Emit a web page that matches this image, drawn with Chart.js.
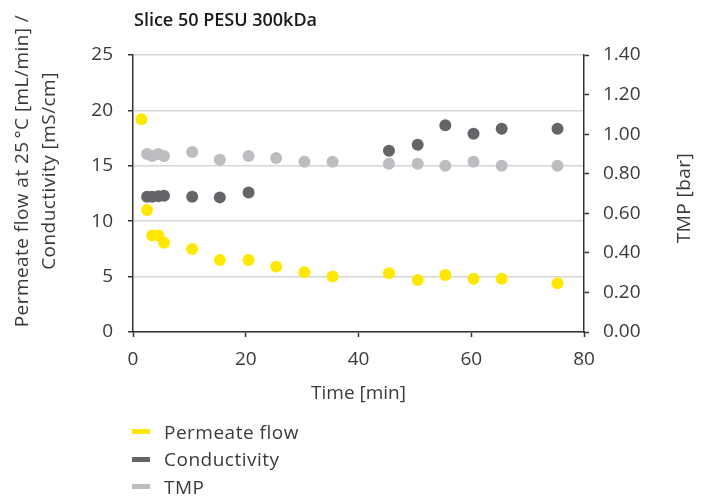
<!DOCTYPE html>
<html>
<head>
<meta charset="utf-8">
<script src="https://cdn.jsdelivr.net/npm/chart.js@4/dist/chart.umd.min.js"></script>
<style>
  html, body { margin: 0; padding: 0; background: #fff; }
  #wrap { position: relative; width: 711px; height: 499px; }
  canvas { position: absolute; left: 0; top: 0; }
  #legend { position: absolute; left: 132px; top: 418px; font-family: "Open Sans", sans-serif; font-size: 19px; letter-spacing: 0.5px; color: #3a3a3a; }
  .item { height: 27.5px; display: flex; align-items: center; }
  .sw { width: 18px; height: 5px; margin-right: 14px; }
</style>
</head>
<body>
<div id="wrap">
  <canvas id="c" width="711" height="499"></canvas>
  <div id="legend"></div>
</div>
<script>
const chartTitle = "Slice 50 PESU 300kDa";
const seriesNames = ["Permeate flow", "Conductivity", "TMP"];
const seriesColors = ["#FFE800", "#646569", "#BCBDC0"];
const timeMin = [1.5, 2.5, 3.4, 4.5, 5.5, 10.5, 15.4, 20.5, 25.4, 30.4, 35.4, 45.4, 50.5, 55.4, 60.4, 65.4, 75.3];
const permeateFlow = [19.2, 11.0, 8.7, 8.7, 8.05, 7.5, 6.5, 6.5, 5.9, 5.4, 5.0, 5.3, 4.7, 5.15, 4.8, 4.8, 4.4];
const conductivity = [null, 12.2, 12.2, 12.25, 12.3, 12.2, 12.15, 12.6, null, null, null, 16.35, 16.9, 18.65, 17.9, 18.35, 18.35];
const tmp = [null, 0.90, 0.89, 0.90, 0.89, 0.91, 0.87, 0.89, 0.88, 0.86, 0.86, 0.85, 0.85, 0.84, 0.86, 0.84, 0.84];
const xTicks = [0, 20, 40, 60, 80];
const leftTicks = [0, 5, 10, 15, 20, 25];
const rightTicks = [0, 0.2, 0.4, 0.6, 0.8, 1.0, 1.2, 1.4];
const leftTitle = ["Permeate flow at 25\u202F°C [mL/min] /", "Conductivity [mS/cm]"];
const rightTitle = "TMP [bar]";
const xTitle = "Time [min]";

const FONT = '"Open Sans", sans-serif';
const toPoints = (vals) => timeMin.map((t, i) => ({x: t, y: vals[i]})).filter(p => p.y !== null);

const textPlugin = {
  id: 'texts',
  afterDraw(chart) {
    const ctx = chart.ctx;
    ctx.save();
    ctx.fillStyle = '#1a1a1a';
    ctx.font = '600 18px ' + FONT;
    ctx.textAlign = 'left';
    ctx.textBaseline = 'middle';
    ctx.fillText(chartTitle, 134, 21);
    ctx.fillStyle = '#3a3a3a';
    ctx.font = '19px ' + FONT;
    if ('letterSpacing' in ctx) ctx.letterSpacing = '0.45px';
    ctx.textAlign = 'center';
    const lx = [23, 50];
    leftTitle.forEach((line, i) => {
      ctx.save();
      ctx.translate(lx[i], 171);
      ctx.rotate(-Math.PI / 2);
      ctx.fillText(line, 0, 0);
      ctx.restore();
    });
    ctx.save();
    ctx.translate(685, 198);
    ctx.rotate(-Math.PI / 2);
    ctx.fillText(rightTitle, 0, 0);
    ctx.restore();
    ctx.restore();
  }
};

const tickFont = {family: FONT, size: 19};
new Chart(document.getElementById('c'), {
  type: 'scatter',
  data: {
    datasets: [
      {label: seriesNames[0], data: toPoints(permeateFlow), yAxisID: 'y', backgroundColor: seriesColors[0], borderWidth: 0, pointRadius: 6, order: 3},
      {label: seriesNames[1], data: toPoints(conductivity), yAxisID: 'y', backgroundColor: seriesColors[1], borderWidth: 0, pointRadius: 6, order: 2},
      {label: seriesNames[2], data: toPoints(tmp), yAxisID: 'y1', backgroundColor: seriesColors[2], borderWidth: 0, pointRadius: 6, order: 1}
    ]
  },
  options: {
    responsive: false,
    animation: false,
    events: [],
    layout: {padding: {top: 55, left: 0, right: 0, bottom: 90}},
    plugins: {legend: {display: false}, tooltip: {enabled: false}, title: {display: false}},
    scales: {
      x: {
        type: 'linear', min: 0, max: 80,
        afterBuildTicks: s => { s.ticks = xTicks.map(v => ({value: v})); },
        afterFit: s => { s.height = 77; },
        grid: {drawOnChartArea: false, tickLength: 5, tickColor: '#333', tickWidth: 1.5},
        border: {color: '#333', width: 1.5},
        ticks: {font: tickFont, color: '#3a3a3a', padding: 11, maxRotation: 0},
        title: {display: true, text: xTitle, font: {family: FONT, size: 19}, color: '#3a3a3a', padding: {top: 4, bottom: 4}}
      },
      y: {
        position: 'left', min: 0, max: 25,
        afterBuildTicks: s => { s.ticks = leftTicks.map(v => ({value: v})); },
        afterFit: s => { s.width = 133; },
        grid: {color: '#d6d6d6', lineWidth: 1.5, tickLength: 5, tickColor: '#333', tickWidth: 1.5},
        border: {color: '#333', width: 1.5},
        ticks: {font: tickFont, color: '#3a3a3a', padding: 15}
      },
      y1: {
        position: 'right', min: 0, max: 1.4,
        afterBuildTicks: s => { s.ticks = rightTicks.map(v => ({value: v})); },
        afterFit: s => { s.width = 127; },
        grid: {drawOnChartArea: false, tickLength: 5, tickColor: '#333', tickWidth: 1.5},
        border: {color: '#333', width: 1.5},
        ticks: {font: tickFont, color: '#3a3a3a', padding: 14, callback: v => v.toFixed(2)}
      }
    }
  },
  plugins: [textPlugin]
});

const leg = document.getElementById('legend');
seriesNames.forEach((n, i) => {
  const d = document.createElement('div');
  d.className = 'item';
  d.innerHTML = '<span class="sw" style="background:' + seriesColors[i] + '"></span><span>' + n + '</span>';
  leg.appendChild(d);
});
</script>
</body>
</html>
